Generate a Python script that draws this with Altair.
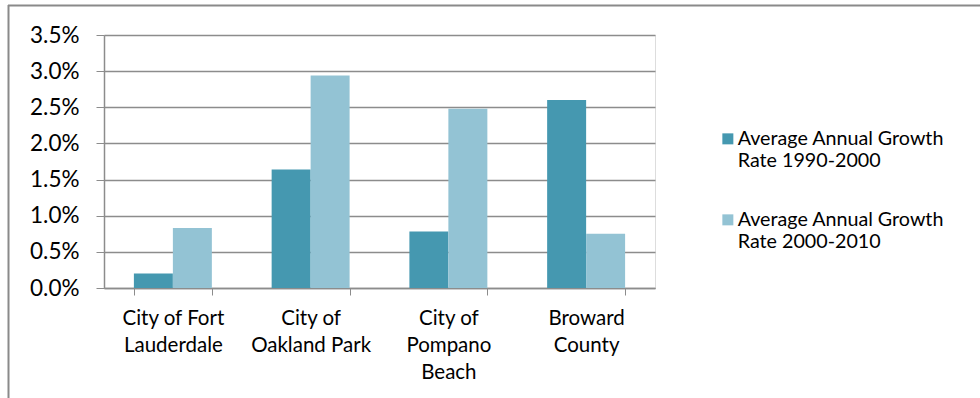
import altair as alt
import pandas as pd

# Average annual population growth rates by place and decade
places = [
    "City of Fort Lauderdale",
    "City of Oakland Park",
    "City of Pompano Beach",
    "Broward County",
]
place_lines = [
    ["City of Fort", "Lauderdale"],
    ["City of", "Oakland Park"],
    ["City of", "Pompano", "Beach"],
    ["Broward", "County"],
]
series = [
    "Average Annual Growth Rate 1990-2000",
    "Average Annual Growth Rate 2000-2010",
]
rate_1990_2000 = [0.0020, 0.0164, 0.0078, 0.0260]
rate_2000_2010 = [0.0083, 0.0294, 0.0248, 0.0075]
colors = ["#4598B0", "#93C3D4"]

rows = []
for i, p in enumerate(places):
    rows.append({"place": p, "series": series[0], "rate": rate_1990_2000[i]})
    rows.append({"place": p, "series": series[1], "rate": rate_2000_2010[i]})
df = pd.DataFrame(rows)

# Multi-line category labels
label_expr = "".join(
    f"datum.value === '{p}' ? {lines!r} : " for p, lines in zip(places, place_lines)
) + "datum.value"

FONT = "Lato"
GRID = "#8C8C8C"

bars = alt.Chart(df).mark_bar().encode(
    x=alt.X(
        "place:N",
        sort=places,
        title=None,
        scale=alt.Scale(paddingInner=0.434, paddingOuter=0.217),
        axis=alt.Axis(
            labelAngle=0,
            labelExpr=label_expr,
            labelFont=FONT,
            labelFontSize=20.5,
            labelColor="#000000",
            labelLineHeight=27,
            labelBaseline="top",
            labelPadding=13,
            tickBand="extent",
            tickSize=7,
            tickColor=GRID,
            domainColor=GRID,
            domainWidth=1.5,
            labelLimit=0,
            grid=False,
        ),
    ),
    xOffset=alt.XOffset("series:N", sort=series),
    y=alt.Y(
        "rate:Q",
        title=None,
        scale=alt.Scale(domain=[0, 0.035], nice=False),
        axis=alt.Axis(
            values=[0, 0.005, 0.01, 0.015, 0.02, 0.025, 0.03, 0.035],
            format=".1%",
            labelFont=FONT,
            labelFontSize=22.5,
            labelColor="#000000",
            labelPadding=17,
            tickSize=8,
            tickColor=GRID,
            domainColor=GRID,
            domainWidth=1.5,
            gridColor=GRID,
            gridWidth=1.6,
            gridOpacity=1,
        ),
    ),
    color=alt.Color(
        "series:N",
        sort=series,
        scale=alt.Scale(domain=series, range=colors),
        legend=alt.Legend(
            title=None,
            orient="none",
            legendX=614,
            legendY=94,
            symbolType="square",
            symbolSize=121,
            symbolStrokeWidth=0,
            labelFont=FONT,
            labelFontSize=19.7,
            labelColor="#000000",
            labelBaseline="middle",
            labelOffset=0,
            labelLimit=0,
            rowPadding=38,
            labelExpr="split(replace(datum.label, ' Rate ', '|Rate '), '|')",
        ),
    ),
)

# Outer frame (top and left edges)
frame = alt.Data(values=[{}])
top_edge = alt.Chart(frame).mark_rule(color="#8A8A8A", strokeWidth=2).encode(
    x=alt.value(-96), x2=alt.value(900), y=alt.value(-29.5)
)
left_edge = alt.Chart(frame).mark_rule(color="#8A8A8A", strokeWidth=2).encode(
    x=alt.value(-95.5), y=alt.value(-30), y2=alt.value(400)
)

chart = alt.layer(bars, top_edge, left_edge).properties(
    width=551,
    height=253,
    autosize=alt.AutoSizeParams(type="none"),
    padding={"left": 104, "top": 35, "right": 325, "bottom": 110},
).configure_view(stroke=None).configure(background="white")

chart.save("out.html", embed_options={"renderer": "svg", "actions": False})
